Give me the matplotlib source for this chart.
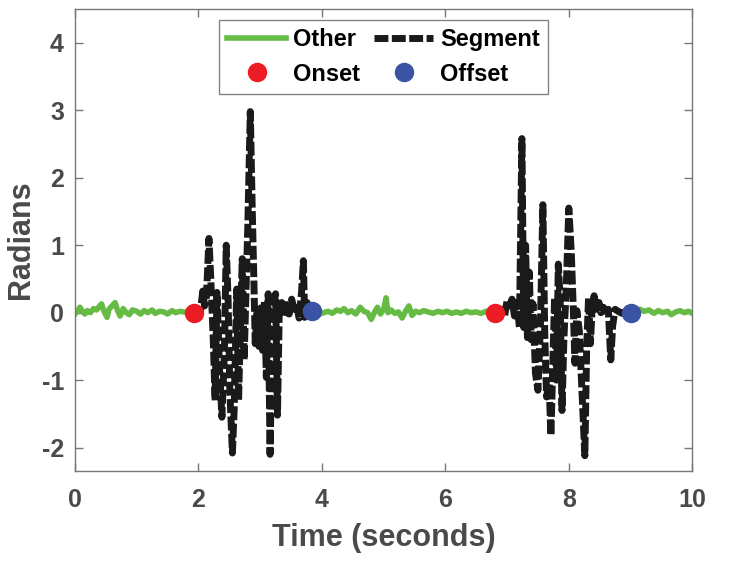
import matplotlib
matplotlib.use("Agg")
import matplotlib.pyplot as plt

plt.rcParams['font.family'] = ['DejaVu Sans Condensed', 'Liberation Sans Narrow', 'Liberation Sans', 'DejaVu Sans']
plt.rcParams['font.weight'] = 'bold'
plt.rcParams['axes.labelweight'] = 'bold'
plt.rcParams['axes.unicode_minus'] = False

# "Other" pieces (quiet signal)
other1_t = [0.00, 0.05, 0.08, 0.12, 0.16, 0.20, 0.25, 0.30, 0.35, 0.40, 0.43, 0.47, 0.52, 0.55,
            0.60, 0.65, 0.69, 0.73, 0.78, 0.83, 0.88, 0.93, 1.00, 1.06, 1.12, 1.18, 1.25, 1.30,
            1.37, 1.44, 1.50, 1.57, 1.63, 1.70, 1.77, 1.83, 1.92]
other1_v = [-0.02, 0.04, 0.08, 0.02, -0.02, 0.03, 0.00, 0.06, 0.04, 0.10, 0.13, 0.02, -0.07, 0.05,
            0.10, 0.15, 0.03, -0.05, 0.06, 0.00, -0.03, 0.04, 0.02, -0.02, 0.03, 0.00, 0.04, -0.01,
            0.02, 0.01, -0.02, 0.03, 0.00, 0.02, 0.01, 0.01, 0.00]
other2_t = [3.84, 3.90, 3.96, 4.03, 4.10, 4.17, 4.24, 4.30, 4.36, 4.42, 4.48, 4.55, 4.62, 4.68,
            4.74, 4.80, 4.86, 4.90, 4.95, 5.00, 5.04, 5.07, 5.12, 5.18, 5.24, 5.30, 5.36, 5.41,
            5.46, 5.52, 5.58, 5.65, 5.72, 5.80, 5.88, 5.95, 6.03, 6.10, 6.18, 6.26, 6.34, 6.42,
            6.50, 6.58, 6.66, 6.74, 6.81]
other2_v = [0.03, 0.01, -0.02, 0.00, 0.02, -0.01, 0.04, 0.02, 0.06, 0.00, 0.03, -0.02, 0.08, 0.02,
            0.00, -0.10, 0.02, 0.08, -0.02, 0.05, 0.22, 0.00, 0.04, -0.01, 0.01, -0.08, 0.03, 0.10,
            -0.04, 0.02, 0.00, 0.03, 0.01, -0.01, 0.02, 0.00, 0.02, -0.01, 0.01, -0.01, 0.02, 0.00,
            0.01, -0.01, 0.02, 0.00, -0.01]
other3_t = [9.01, 9.08, 9.15, 9.22, 9.30, 9.38, 9.45, 9.52, 9.60, 9.66, 9.73, 9.80, 9.87, 9.94, 10.0]
other3_v = [0.00, 0.03, 0.05, 0.02, 0.04, -0.01, 0.03, 0.00, 0.02, -0.03, 0.01, 0.03, 0.00, 0.02, -0.01]

# "Segment" pieces (movement)
seg1_t = [1.92, 1.98, 2.03, 2.07, 2.10, 2.13, 2.17, 2.20, 2.24, 2.27, 2.30, 2.34, 2.38, 2.42,
          2.45, 2.48, 2.51, 2.55, 2.58, 2.62, 2.65, 2.68, 2.71, 2.74, 2.77, 2.80, 2.84, 2.87,
          2.90, 2.92, 2.95, 2.98, 3.01, 3.04, 3.07, 3.10, 3.13, 3.16, 3.19, 3.22, 3.25, 3.28,
          3.31, 3.35, 3.39, 3.43, 3.47, 3.51, 3.55, 3.59, 3.63, 3.67, 3.70, 3.72, 3.76, 3.80, 3.84]
seg1_v = [0.00, 0.03, 0.00, 0.32, 0.10, 0.25, 1.10, 0.50, -0.40, -1.30, 0.30, -0.80, -1.55, -0.60,
          1.00, 0.20, -1.20, -2.08, -1.40, 0.35, -1.30, -0.20, 0.80, -0.70, 0.30, 1.30, 2.98, 1.60,
          0.40, -0.46, 0.00, -0.50, 0.07, -0.56, 0.18, -0.96, 0.28, -2.10, -0.50, 0.10, 0.28, -1.52,
          0.05, 0.15, -0.05, 0.12, -0.02, 0.20, 0.05, 0.12, -0.08, 0.30, 0.77, -0.07, 0.15, 0.05, 0.03]
seg2_t = [6.81, 6.87, 6.92, 6.96, 7.00, 7.04, 7.08, 7.12, 7.16, 7.20, 7.24, 7.27, 7.30, 7.33,
          7.36, 7.39, 7.42, 7.46, 7.50, 7.54, 7.58, 7.61, 7.64, 7.68, 7.71, 7.74, 7.77, 7.80,
          7.83, 7.86, 7.89, 7.92, 7.96, 8.00, 8.04, 8.07, 8.10, 8.13, 8.17, 8.20, 8.26, 8.29,
          8.32, 8.35, 8.38, 8.41, 8.45, 8.49, 8.52, 8.56, 8.60, 8.64, 8.68, 8.71, 8.75, 8.80,
          8.86, 8.92, 9.01]
seg2_v = [-0.01, -0.02, 0.05, -0.05, 0.18, 0.10, 0.20, -0.05, 0.15, -0.22, 2.58, -0.22, 1.00, -0.37,
          0.60, -0.40, 0.13, -0.90, -1.15, -0.20, 1.60, -0.30, -1.25, -1.05, -1.82, -0.80, 0.22, -1.00,
          0.72, 0.20, -1.45, -0.40, 0.40, 1.55, 0.90, 0.13, -0.75, 0.03, -0.27, -0.90, -2.12, -0.50,
          0.22, -0.46, 0.10, 0.25, 0.05, 0.15, 0.00, 0.08, -0.05, 0.05, -0.70, -0.20, 0.05, 0.02,
          -0.01, 0.02, 0.00]

onset_t = [1.92, 6.81]
onset_v = [0.00, -0.01]
offset_t = [3.84, 9.01]
offset_v = [0.03, 0.00]

green = '#66bb44'
red = '#ec1c24'
blue = '#3a53a4'
gray_txt = '#4a4a4a'

fig = plt.figure(figsize=(7.5, 5.65), dpi=100)
ax = fig.add_axes([0.100, 0.166, 0.823, 0.818])

h_other, = ax.plot(other1_t, other1_v, color=green, lw=4, label='Other')
ax.plot(other2_t, other2_v, color=green, lw=4)
ax.plot(other3_t, other3_v, color=green, lw=4)
h_seg, = ax.plot(seg1_t, seg1_v, color='#1a1a1a', lw=5, dashes=(2.0, 0.5), label='Segment')
ax.plot(seg2_t, seg2_v, color='#1a1a1a', lw=5, dashes=(2.0, 0.5))
h_on, = ax.plot(onset_t, onset_v, 'o', color=red, ms=13, ls='none', label='Onset', zorder=5)
h_off, = ax.plot(offset_t, offset_v, 'o', color=blue, ms=13, ls='none', label='Offset', zorder=5)

ax.set_xlim(0, 10)
ax.set_ylim(-2.35, 4.5)
ax.set_xticks([0, 2, 4, 6, 8, 10])
ax.set_yticks([-2, -1, 0, 1, 2, 3, 4])
ax.tick_params(direction='in', top=True, right=True, length=6, width=1,
               color='#777777', labelsize=18, labelcolor=gray_txt)
ax.tick_params(axis='x', pad=12)
ax.tick_params(axis='y', pad=8)
for s in ax.spines.values():
    s.set_color('#777777')
    s.set_linewidth(1)

ax.set_xlabel('Time (seconds)', fontsize=22, color=gray_txt, labelpad=8)
ax.set_ylabel('Radians', fontsize=22, color=gray_txt, labelpad=4)

leg = ax.legend([h_other, h_on, h_seg, h_off], ['Other', 'Onset', 'Segment', 'Offset'],
                loc='upper center', ncol=2, fontsize=17, frameon=True, fancybox=False,
                edgecolor='#666666', borderaxespad=0.45, handlelength=2.5,
                columnspacing=0.6, handletextpad=0.3, labelspacing=0.5, borderpad=0.35)
leg.get_frame().set_linewidth(1)

fig.savefig('out.png', dpi=100)
